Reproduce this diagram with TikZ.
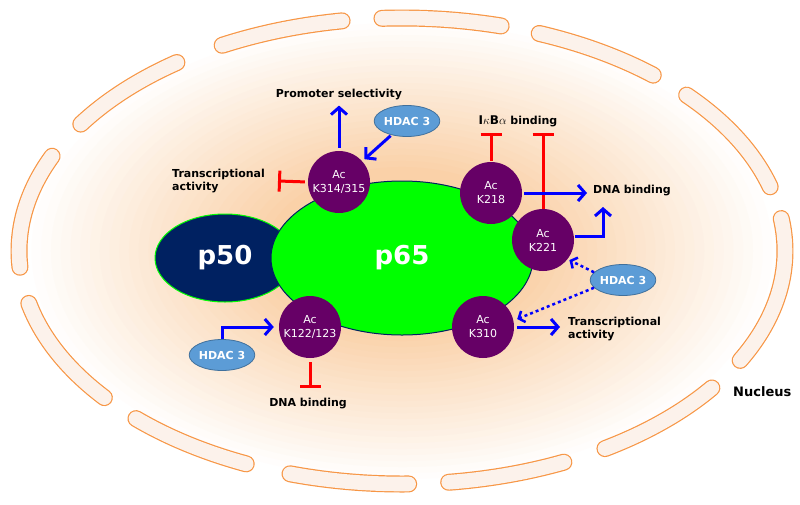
\documentclass[tikz,border=0pt]{standalone}
\usepackage{fontspec}
\setmainfont{DejaVu Sans}
\usepackage{tkz-euclide}
\usetikzlibrary{arrows.meta,calc,shapes.geometric}
\definecolor{NucClr}{rgb}{0.98,0.82,0.66}
\definecolor{MembClr}{rgb}{0.97,0.59,0.27}
\definecolor{CapsClr}{rgb}{0.99,0.95,0.92}
\definecolor{AcClr}{rgb}{0.4,0,0.4}
\definecolor{PfiftyClr}{rgb}{0,0.13,0.38}
\definecolor{HdacClr}{rgb}{0.36,0.61,0.84}
\definecolor{HdacLine}{rgb}{0.25,0.44,0.61}

\begin{document}
\begin{tikzpicture}[x=1pt,y=-1pt,
  acnode/.style={circle,fill=AcClr,text=white,minimum size=62pt,inner sep=0pt,align=center,font=\fontsize{11}{14}\selectfont},
  hdac/.style={ellipse,fill=HdacClr,draw=HdacLine,line width=0.8pt,minimum width=58pt,minimum height=31pt,inner sep=0pt,text=white,font=\fontsize{11}{13}\selectfont\bfseries},
  lbl/.style={font=\fontsize{11}{13}\selectfont\bfseries,inner sep=0pt,align=left},
  actarrow/.style={draw=blue,line width=3pt,-{Straight Barb[length=7pt,width=16pt]}},
  inhib/.style={draw=red,line width=3pt,-{Bar[width=21pt]}},
  deacarrow/.style={draw=blue,line width=2.5pt,dash pattern=on 3pt off 3pt,-{Straight Barb[length=5pt,width=12pt]}},
  memb/.style={draw=MembClr,line width=17pt,line cap=round},
  caps/.style={draw=CapsClr,line width=14.6pt,line cap=round}]
\useasboundingbox (0,0) rectangle (800,504);

\foreach \i in {0,...,30}{
  \pgfmathsetmacro\rr{1-\i*0.025}
  \pgfmathsetmacro\pp{min(100,max(0,(0.97-\rr)/0.62*100))}
  \fill[NucClr!\pp!white] (402,251) ellipse [x radius=390*\rr,y radius=240*\rr];
}
\foreach \a/\b in {126/147,99/118,75/93,49/69,16/42,-28/8,-58/-36,-83/-65,-107/-89,-134/-114,-167/-141,156/184}{
  \draw[memb] plot[domain=\a:\b,samples=20,smooth] ({402+383*cos(\x)},{251-233*sin(\x)});
  \draw[caps] plot[domain=\a:\b,samples=20,smooth] ({402+383*cos(\x)},{251-233*sin(\x)});
}

\tkzDefPoints{225/258/cPfifty,402/258/cPsixfive,339/182/cKa,491/193/cKb,543/240/cKc,310/327/cKd,483/327/cKe,407/121/cHa,222/355/cHb,623/280/cHc}

\node[ellipse,fill=PfiftyClr,draw=green,line width=1pt,minimum width=140pt,minimum height=88pt,text=white,font=\fontsize{26}{30}\selectfont\bfseries] (pfifty) at (cPfifty) {p50};
\node[ellipse,fill=green,draw=PfiftyClr,line width=1pt,minimum width=262pt,minimum height=154pt,text=white,font=\fontsize{26}{30}\selectfont\bfseries] (psixfive) at (cPsixfive) {p65};

\node[acnode] (kA) at (cKa) {Ac\\K314/315};
\node[acnode] (kB) at (cKb) {Ac\\K218};
\node[acnode] (kC) at (cKc) {Ac\\K221};
\node[acnode] (kD) at (cKd) {Ac\\K122/123};
\node[acnode] (kE) at (cKe) {Ac\\K310};

\node[hdac] (hA) at (cHa) {HDAC 3};
\node[hdac] (hB) at (cHb) {HDAC 3};
\node[hdac] (hC) at (cHc) {HDAC 3};

\node[lbl,anchor=base] (promoter) at (339,97) {Promoter selectivity};
\node[lbl,anchor=west] (transL) at (172,181) {Transcriptional\\activity};
\node[lbl,anchor=base] (ikba) at (518,124) {{\rmfamily\fontsize{12}{13}\selectfont I$\kappa$B$\alpha$} binding};
\node[lbl,anchor=west] (dnaR) at (593,191) {DNA binding};
\node[lbl,anchor=west] (transR) at (568,329) {Transcriptional\\activity};
\node[lbl,anchor=base] (dnaL) at (308,406) {DNA binding};
\node[font=\fontsize{13}{15}\selectfont\bfseries,anchor=west,inner sep=0pt] (nucleus) at (733,392) {Nucleus};

\coordinate (barA) at (278,181);
\coordinate (dnaUp) at (603,207);

\draw[actarrow,shorten <=3pt,shorten >=6pt] (kA.north) -- (kA.north |- promoter.south);
\draw[actarrow,shorten <=1pt,shorten >=3pt] (hA) -- (kA);
\draw[inhib,shorten <=3pt] (kA.west) -- (barA);

\draw[inhib,shorten <=1pt,shorten >=6pt] (kB.north) -- (kB.north |- ikba.south);
\draw[inhib,shorten >=6pt] (kC.north) -- (kC.north |- ikba.south);
\draw[actarrow,shorten <=2pt,shorten >=6pt] (kB.east) -- (kB.east -| dnaR.west);
\draw[actarrow] ($(kC.east)+(1,-4)$) -| (dnaUp);

\draw[deacarrow,shorten >=2pt] (hC.165) -- (kC.-38);
\draw[deacarrow,shorten >=4pt] (hC.195) -- (kE.12);
\draw[actarrow,shorten <=3pt,shorten >=8pt] (kE.east) -- (kE.east -| transR.west);

\draw[actarrow,shorten >=5pt] (hB.north) |- (kD.west);
\draw[inhib,shorten <=4pt,shorten >=9pt] (kD.south) -- (kD.south |- dnaL.north);

\end{tikzpicture}
\end{document}
